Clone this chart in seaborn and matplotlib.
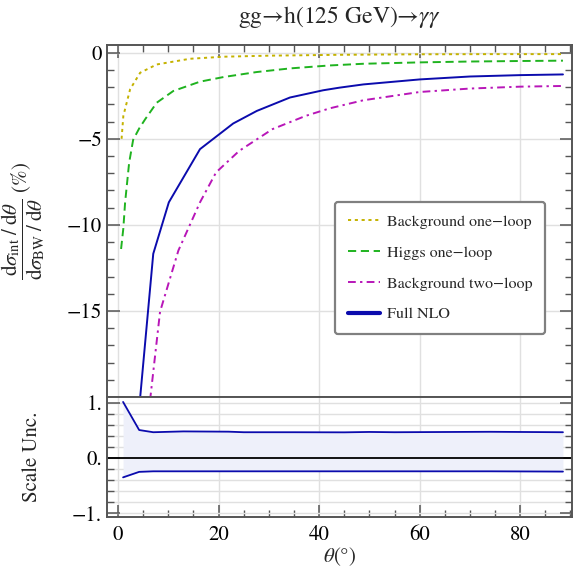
import numpy as np
import pandas as pd
import matplotlib
matplotlib.use("Agg")
import matplotlib.pyplot as plt
from matplotlib.ticker import MultipleLocator, FixedLocator
import seaborn as sns

# ---------------- data ----------------
bg1_theta = [0.7, 1.05, 2.4, 4.4, 7.7, 14.3, 21.0, 30.0, 44.0, 60.0, 75.0, 88.5]
bg1_vals = [-5.0, -3.67, -2.12, -1.16, -0.68, -0.35, -0.23, -0.17, -0.12, -0.09, -0.08, -0.08]

h1_theta = [0.6, 1.05, 1.4, 2.2, 3.0, 4.2, 5.4, 7.7, 11.0, 16.3, 21.0, 27.6, 34.2, 42.0, 48.8, 60.0, 70.0, 80.0, 88.5]
h1_vals = [-11.4, -10.2, -8.7, -6.4, -5.06, -4.4, -3.86, -2.90, -2.22, -1.68, -1.41, -1.12, -0.91, -0.74, -0.64, -0.56, -0.51, -0.48, -0.46]

bg2_theta = [4.0, 6.4, 8.35, 12.0, 16.3, 19.5, 24.1, 30.7, 37.3, 42.1, 48.8, 60.0, 70.0, 80.0, 88.5]
bg2_vals = [-30.0, -20.1, -15.05, -11.49, -8.69, -6.95, -5.70, -4.44, -3.67, -3.23, -2.76, -2.28, -2.08, -1.97, -1.93]

nlo_theta = [4.0, 7.0, 10.1, 16.3, 22.9, 27.6, 34.2, 40.8, 44.0, 48.8, 60.0, 70.0, 80.0, 88.5]
nlo_vals = [-21.3, -11.68, -8.69, -5.6, -4.11, -3.38, -2.60, -2.18, -2.03, -1.84, -1.55, -1.38, -1.30, -1.26]

unc_theta = [1.0, 4.2, 7.0, 13.0, 22.0, 25.0, 35.0, 45.0, 50.0, 55.0, 74.0, 88.5]
unc_up = [1.02, 0.51, 0.47, 0.485, 0.48, 0.47, 0.47, 0.468, 0.475, 0.47, 0.478, 0.47]
unc_lo = [-0.35, -0.25, -0.24, -0.24, -0.24, -0.24, -0.24, -0.24, -0.24, -0.24, -0.24, -0.245]

series_labels = ["Background one\u2212loop", "Higgs one\u2212loop",
                 "Background two\u2212loop", "Full NLO"]
top_ticks = [0, -5, -10, -15]
top_ticklabels = ["0", "\u22125", "\u221210", "\u221215"]
bot_ticks = [1, 0, -1]
bot_ticklabels = ["1.", "0.", "\u22121."]
x_ticks = [0, 20, 40, 60, 80]

# ---------------- style ----------------
sns.set_theme(style="ticks")
plt.rcParams["font.family"] = ["STIXGeneral", "Liberation Serif", "DejaVu Serif"]
plt.rcParams["mathtext.fontset"] = "stix"

c_yel = "#c4b200"
c_grn = "#1fb31f"
c_mag = "#b816b8"
c_blu = "#0b0bad"
spine_c = "#555555"
grid_c = "#e0e0e0"

W, H = 579, 567
fig = plt.figure(figsize=(W / 100, H / 100), dpi=100)
L, R = 107 / W, 572 / W
ax1 = fig.add_axes([L, 1 - 397 / H, R - L, (397 - 45) / H])
ax2 = fig.add_axes([L, 1 - 517 / H, R - L, (517 - 397) / H], sharex=ax1)

# ---------------- top panel ----------------
sns.lineplot(x=bg1_theta, y=bg1_vals, ax=ax1, color=c_yel, lw=1.4,
             linestyle=(0, (1.6, 1.9)), label=series_labels[0])
sns.lineplot(x=h1_theta, y=h1_vals, ax=ax1, color=c_grn, lw=1.4,
             linestyle=(0, (4.2, 2.4)), label=series_labels[1])
sns.lineplot(x=bg2_theta, y=bg2_vals, ax=ax1, color=c_mag, lw=1.4,
             linestyle=(0, (4.0, 2.2, 1.2, 2.2)), label=series_labels[2])
sns.lineplot(x=nlo_theta, y=nlo_vals, ax=ax1, color=c_blu, lw=1.4,
             linestyle="-", label=series_labels[3])

ax1.set_xlim(-2.2, 90.3)
ax1.set_ylim(-20.0, 0.45)
ax1.yaxis.set_major_locator(FixedLocator(top_ticks))
ax1.set_yticklabels(top_ticklabels)
ax1.yaxis.set_minor_locator(MultipleLocator(1))
ax1.xaxis.set_major_locator(FixedLocator(x_ticks))
ax1.xaxis.set_minor_locator(MultipleLocator(5))
ax1.grid(True, which="major", color=grid_c, lw=1.0)
ax1.tick_params(axis="both", which="both", direction="in", colors=spine_c,
                labelcolor="black", top=True, right=True, bottom=False,
                labelbottom=False, labelsize=15)
ax1.tick_params(which="major", length=9, width=1.1)
ax1.tick_params(which="minor", length=5, width=1.0)
ax1.set_xlabel("")
ax1.set_ylabel(r"$\dfrac{\mathrm{d}\sigma_{\mathrm{int}}\;/\;\mathrm{d}\theta}"
               r"{\mathrm{d}\sigma_{\mathrm{BW}}\;/\;\mathrm{d}\theta}$ (%)",
               fontsize=15)
ax1.yaxis.set_label_coords(-0.128, 0.5)

leg = ax1.legend(loc="upper left", bbox_to_anchor=(0.49, 0.555), fontsize=11.5,
                 frameon=True, fancybox=True, edgecolor="#808080",
                 handlelength=2.0, handletextpad=0.45, labelspacing=1.05,
                 borderpad=0.8, borderaxespad=0)
leg.get_frame().set_linewidth(1.6)
leg.get_frame().set_facecolor("white")
leg.get_frame().set_alpha(1)
for i, ln in enumerate(leg.get_lines()):
    ln.set_linewidth(3.0 if i == 3 else 1.4)

# ---------------- bottom panel ----------------
ax2.fill_between(unc_theta, unc_lo, unc_up, color="#eef0fa", lw=0, zorder=1)
sns.lineplot(x=unc_theta, y=unc_up, ax=ax2, color=c_blu, lw=1.3)
sns.lineplot(x=unc_theta, y=unc_lo, ax=ax2, color=c_blu, lw=1.3)
ax2.axhline(0, color="black", lw=1.3, zorder=2)
ax2.set_ylim(-1.07, 1.11)
ax2.yaxis.set_major_locator(FixedLocator(bot_ticks))
ax2.set_yticklabels(bot_ticklabels)
ax2.yaxis.set_minor_locator(MultipleLocator(0.2))
ax2.xaxis.set_minor_locator(MultipleLocator(5))
ax2.grid(True, which="major", axis="x", color=grid_c, lw=1.0)
ax2.grid(True, which="minor", axis="y", color=grid_c, lw=1.0)
ax2.grid(True, which="major", axis="y", color=grid_c, lw=1.0)
ax2.tick_params(axis="both", which="both", direction="in", colors=spine_c,
                labelcolor="black", top=False, right=True, labelsize=15)
ax2.tick_params(which="major", length=9, width=1.1)
ax2.tick_params(which="minor", length=5, width=1.0)
ax2.tick_params(axis="x", pad=6)
ax2.set_xticks(x_ticks)
ax2.set_xticklabels([str(t) for t in x_ticks])
ax2.set_ylabel("Scale Unc.", fontsize=15)
ax2.yaxis.set_label_coords(-0.14, 0.5)
ax2.set_xlabel(r"$\theta$(°)", fontsize=15)
ax2.xaxis.set_label_coords(0.5, -0.235)

for ax in (ax1, ax2):
    for s in ax.spines.values():
        s.set_color(spine_c)
        s.set_linewidth(1.4)

fig.text(339.5 / W, 1 - 17 / H, r"gg→h(125 GeV)→$\gamma\gamma$",
         ha="center", va="center", fontsize=17)

fig.savefig("out.png", dpi=100)
